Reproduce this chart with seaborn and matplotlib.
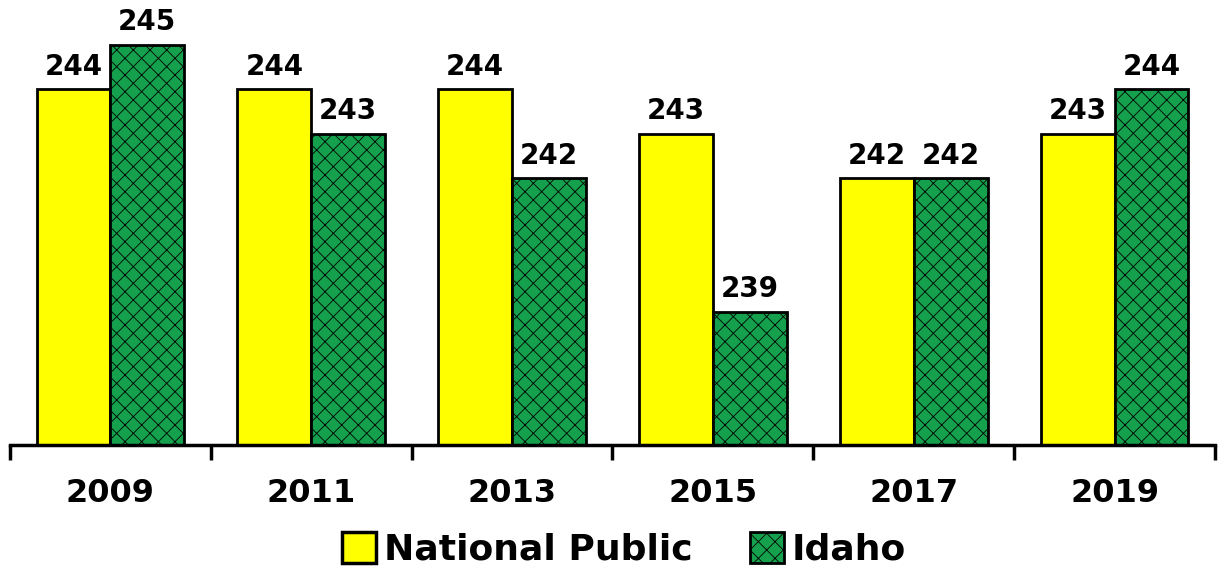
import matplotlib
matplotlib.use("Agg")
import matplotlib.pyplot as plt
import seaborn as sns
import pandas as pd
from matplotlib.patches import Patch

years = ["2009", "2011", "2013", "2015", "2017", "2019"]
national_public = [244, 244, 244, 243, 242, 243]
idaho = [245, 243, 242, 239, 242, 244]
series_names = ["National Public", "Idaho"]

df = pd.DataFrame({
    "Year": years * 2,
    "Score": national_public + idaho,
    "Group": [series_names[0]] * len(years) + [series_names[1]] * len(years),
})

sns.set_style("white")
plt.rcParams["font.family"] = ["DejaVu Sans"]
plt.rcParams["hatch.linewidth"] = 0.6
plt.rcParams["text.color"] = "black"
plt.rcParams["xtick.color"] = "black"
plt.rcParams["xtick.labelcolor"] = "black"

yellow = "#FFFF00"
green = "#14A04C"

fig = plt.figure(figsize=(12.21, 5.71), dpi=100)
ax = fig.add_axes([10 / 1221, 1 - 445 / 571, 1205 / 1221, 445 / 571])

sns.barplot(data=df, x="Year", y="Score", hue="Group", order=years,
            hue_order=series_names, palette=[yellow, green], width=0.735,
            saturation=1, edgecolor="black", linewidth=2.0, ax=ax, legend=False)

for bar in ax.containers[1]:
    bar.set_hatch("xx")

for cont in ax.containers:
    ax.bar_label(cont, fmt="%d", padding=6, fontsize=20, fontweight="bold", color="black")

ax.set_ylim(236, 246)
ax.set_xlim(-0.5, len(years) - 0.5)
ax.set_xlabel("")
ax.set_ylabel("")
ax.set_yticks([])
for s in ["left", "right", "top"]:
    ax.spines[s].set_visible(False)
ax.spines["bottom"].set_linewidth(2.5)
ax.spines["bottom"].set_color("black")

ax.set_xticks(range(len(years)))
ax.set_xticklabels(years, fontsize=23, fontweight="bold", color="black")
ax.tick_params(axis="x", which="major", length=0, pad=24)
ax.set_xticks([i - 0.5 for i in range(len(years) + 1)], minor=True)
ax.tick_params(axis="x", which="minor", bottom=True, length=11, width=2.5,
               color="black", direction="out")

handles = [Patch(facecolor=yellow, edgecolor="black", linewidth=2.5),
           Patch(facecolor=green, edgecolor="black", linewidth=2.0, hatch="xx")]
fig.legend(handles, series_names, loc="center", bbox_to_anchor=(0.511, 1 - 549 / 571),
           ncol=2, frameon=False, prop={"size": 26, "weight": "bold"},
           handlelength=0.95, handleheight=0.95, handletextpad=0.2, columnspacing=1.6)

fig.savefig("out.png", dpi=100)
